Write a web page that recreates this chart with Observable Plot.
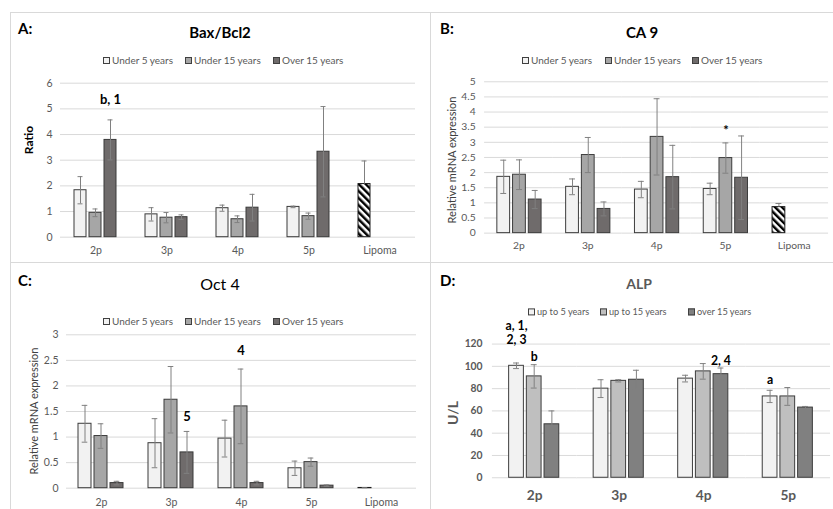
<!DOCTYPE html>
<html><head><meta charset="utf-8">
<script src="https://cdn.jsdelivr.net/npm/d3@7"></script>
<script src="https://cdn.jsdelivr.net/npm/@observablehq/plot@0.6"></script>
<style>
body{margin:0;background:#fff;overflow:hidden;}
#page{position:relative;width:833px;height:509px;overflow:hidden;font-family:Lato,"Open Sans",sans-serif;background:#fff;}
.ln{position:absolute;background:#d9d9d9;}
.txt{position:absolute;transform:translate(-50%,-50%);white-space:nowrap;line-height:1;}
.letter{position:absolute;transform:translateY(-50%);font-weight:bold;font-size:15px;color:#000;line-height:1;}
.ylab{position:absolute;transform:translate(-50%,-50%) rotate(-90deg);white-space:nowrap;line-height:1;}
.leg{position:absolute;display:flex;align-items:center;color:#595959;white-space:nowrap;transform:translateY(-50%);line-height:1;}
.sw{display:inline-block;width:5px;height:5px;border:1px solid #404040;margin-right:2px;}
.plot{position:absolute;}
.plot svg{overflow:visible;}
</style></head>
<body>
<svg width="0" height="0" style="position:absolute">
  <defs>
    <pattern id="hatch" patternUnits="userSpaceOnUse" width="5" height="5" patternTransform="rotate(-45)">
      <rect width="5" height="5" fill="#ffffff"/>
      <rect width="2.5" height="5" fill="#000000"/>
    </pattern>
  </defs>
</svg>
<div id="page"></div>
<script>
// ---------- data ----------
const categories = ["2p", "3p", "4p", "5p", "Lipoma"];
const categoriesALP = ["2p", "3p", "4p", "5p"];
const groups = ["Under 5 years", "Under 15 years", "Over 15 years"];
const groupsALP = ["up to 5 years", "up to 15 years", "over 15 years"];

// A: Bax/Bcl2 ratio
const baxU5 = [1.83, 0.89, 1.13, 1.18, 2.07];
const baxU15 = [0.95, 0.76, 0.70, 0.82, null];
const baxO15 = [3.79, 0.78, 1.15, 3.33, null];
const baxU5Err = [0.53, 0.26, 0.12, 0.03, 0.90];
const baxU15Err = [0.15, 0.20, 0.13, 0.12, null];
const baxO15Err = [0.78, 0.09, 0.52, 1.76, null];
const baxTicks = [0, 1, 2, 3, 4, 5, 6];
const baxNotes = [{cat: "2p", group: "Over 15 years", y: 5.36, text: "b, 1"}];

// B: CA 9
const caU5 = [1.86, 1.53, 1.44, 1.46, 0.86];
const caU15 = [1.93, 2.58, 3.18, 2.48, null];
const caO15 = [1.11, 0.80, 1.85, 1.83, null];
const caU5Err = [0.55, 0.26, 0.27, 0.19, 0.12];
const caU15Err = [0.49, 0.58, 1.26, 0.50, null];
const caO15Err = [0.30, 0.23, 1.05, 1.38, null];
const caTicks = [0, 0.5, 1, 1.5, 2, 2.5, 3, 3.5, 4, 4.5, 5];
const caNotes = [{cat: "5p", group: "Under 15 years", y: 3.37, text: "*"}];

// C: Oct 4
const octU5 = [1.26, 0.88, 0.97, 0.39, 0.005];
const octU15 = [1.02, 1.73, 1.60, 0.51, null];
const octO15 = [0.10, 0.70, 0.10, 0.05, null];
const octU5Err = [0.36, 0.48, 0.36, 0.14, 0.004];
const octU15Err = [0.24, 0.65, 0.73, 0.08, null];
const octO15Err = [0.035, 0.41, 0.035, 0.015, null];
const octTicks = [0, 0.5, 1, 1.5, 2, 2.5, 3];
const octNotes = [
  {cat: "3p", group: "Over 15 years", y: 1.40, text: "5"},
  {cat: "4p", group: "Under 15 years", y: 2.68, text: "4"}
];

// D: ALP (U/L)
const alpU5 = [100.5, 80, 89, 73];
const alpU15 = [91, 87, 95.5, 73];
const alpO15 = [48, 88, 93, 63];
const alpU5Err = [2.5, 8, 3, 5.5];
const alpU15Err = [10.5, 1, 7, 8];
const alpO15Err = [12, 8.5, 5.5, 1];
const alpTicks = [0, 20, 40, 60, 80, 100, 120];
const alpNotes = [
  {cat: "2p", group: "up to 5 years", y: 135.9, text: "a, 1,"},
  {cat: "2p", group: "up to 5 years", y: 123.5, text: "2, 3"},
  {cat: "2p", group: "up to 15 years", y: 108.5, text: "b"},
  {cat: "4p", group: "over 15 years", y: 105, text: "2, 4"},
  {cat: "5p", group: "up to 5 years", y: 87.4, text: "a"}
];

const fillsGray = ["#f2f2f2", "#a6a6a6", "#6f6b6b"];
const fillsALP = ["#f2f2f2", "#bfbfbf", "#808080"];
const FONT = "Lato, 'Open Sans', sans-serif";

// ---------- helpers ----------
function rowsFor(cats, groupNames, vals, errs) {
  const out = [];
  cats.forEach((c, i) => groupNames.forEach((g, j) => {
    const v = vals[j][i];
    if (v == null) return;
    const e = errs[j][i];
    const hatch = c === "Lipoma";
    out.push({cat: c, group: g, value: v, lo: hatch ? v : v - e, hi: v + e, hatch});
  }));
  return out;
}

function panel(o) {
  const normal = o.rows.filter(d => !d.hatch);
  const hatched = o.rows.filter(d => d.hatch);
  return Plot.plot({
    width: o.width, height: o.height,
    marginLeft: o.ml, marginRight: o.mr, marginTop: o.mt, marginBottom: o.mb,
    style: {fontFamily: FONT, fontSize: "10.5px", color: "#595959", background: "transparent", overflow: "visible"},
    fx: {domain: o.cats, padding: 0, label: null},
    x: {domain: o.groups, paddingInner: o.pi, paddingOuter: o.po, axis: null},
    y: {domain: o.yDomain, label: null},
    color: {domain: o.groups, range: o.fills},
    marks: [
      Plot.gridY({ticks: o.ticks, stroke: "#d9d9d9", strokeOpacity: 1}),
      Plot.axisY({ticks: o.ticks, tickFormat: d => String(d), tickSize: 0, tickPadding: o.tickPad, label: null, fontWeight: o.tickWeight || "normal", fill: "#595959"}),
      Plot.axisFx({anchor: "bottom", tickSize: 0, tickPadding: o.fxPad, label: null, fontSize: o.fxSize || 10.5, fontWeight: o.fxWeight || "normal", fill: "#595959"}),
      Plot.barY(normal, {fx: "cat", x: "group", y: "value", fill: "group", stroke: "#3a3a3a", strokeWidth: 1}),
      Plot.barY(hatched, {fx: "cat", x: "group", y: "value", fill: "url(#hatch)", stroke: "#1a1a1a", strokeWidth: 1}),
      Plot.ruleX(o.rows, {fx: "cat", x: "group", y1: "lo", y2: "hi", stroke: "#808080", strokeWidth: 1}),
      Plot.tickY(o.rows.filter(d => !d.hatch), {fx: "cat", x: "group", y: "lo", stroke: "#808080", strokeWidth: 1, insetLeft: o.cap, insetRight: o.cap}),
      Plot.tickY(o.rows, {fx: "cat", x: "group", y: "hi", stroke: "#808080", strokeWidth: 1, insetLeft: o.cap, insetRight: o.cap}),
      Plot.text(o.notes, {fx: "cat", x: "group", y: "y", text: "text", fontWeight: "bold", fontSize: o.noteSize || 13, fill: "#000"})
    ]
  });
}

const page = document.getElementById("page");
function add(html) { page.insertAdjacentHTML("beforeend", html); }

// panel borders
add(`<div class="ln" style="left:10px;top:12px;width:823px;height:1px"></div>`);
add(`<div class="ln" style="left:10px;top:262px;width:823px;height:1px"></div>`);
add(`<div class="ln" style="left:10px;top:12px;width:1px;height:497px"></div>`);
add(`<div class="ln" style="left:430px;top:12px;width:1px;height:497px"></div>`);

function place(svg, left, top) {
  const d = document.createElement("div");
  d.className = "plot";
  d.style.left = left + "px";
  d.style.top = top + "px";
  d.appendChild(svg);
  page.appendChild(d);
}

place(panel({
  rows: rowsFor(categories, groups, [baxU5, baxU15, baxO15], [baxU5Err, baxU15Err, baxO15Err]),
  cats: categories, groups, fills: fillsGray, ticks: baxTicks, yDomain: [0, 6], notes: baxNotes,
  width: 425, height: 262, ml: 58, mr: 9, mt: 82.7, mb: 25.3,
  pi: 0.19, po: 0.83, cap: 3.5, tickPad: 8, fxPad: 9
}), 0, 0);

place(panel({
  rows: rowsFor(categories, groups, [caU5, caU15, caO15], [caU5Err, caU15Err, caO15Err]),
  cats: categories, groups, fills: fillsGray, ticks: caTicks, yDomain: [0, 5], notes: caNotes,
  width: 410, height: 262, ml: 55, mr: 5, mt: 82.7, mb: 25.3,
  pi: 0.19, po: 0.78, cap: 3.5, tickPad: 9, fxPad: 9
}), 430, 0);

place(panel({
  rows: rowsFor(categories, groups, [octU5, octU15, octO15], [octU5Err, octU15Err, octO15Err]),
  cats: categories, groups, fills: fillsGray, ticks: octTicks, yDomain: [0, 3], notes: octNotes,
  width: 425, height: 247, ml: 65, mr: 8, mt: 72.3, mb: 21.3,
  pi: 0.18, po: 0.66, cap: 3.7, tickPad: 8, fxPad: 10
}), 0, 262);

place(panel({
  rows: rowsFor(categoriesALP, groupsALP, [alpU5, alpU15, alpO15], [alpU5Err, alpU15Err, alpO15Err]),
  cats: categoriesALP, groups: groupsALP, fills: fillsALP, ticks: alpTicks, yDomain: [0, 120], notes: alpNotes,
  width: 410, height: 247, ml: 61, mr: 2, mt: 83, mb: 28,
  pi: 0.16, po: 0.86, cap: 4.5, tickPad: 10, tickWeight: "bold", fxPad: 13, fxSize: 14, fxWeight: "bold", noteSize: 12.5
}), 430, 262);

// panel letters
add(`<div class="letter" style="left:18px;top:28px">A:</div>`);
add(`<div class="letter" style="left:440px;top:28px">B:</div>`);
add(`<div class="letter" style="left:18px;top:280px">C:</div>`);
add(`<div class="letter" style="left:440px;top:280px">D:</div>`);

// titles
add(`<div class="txt" style="left:220px;top:32px;font-weight:bold;font-size:15px;color:#000">Bax/Bcl2</div>`);
add(`<div class="txt" style="left:642px;top:32px;font-weight:bold;font-size:15px;color:#000">CA 9</div>`);
add(`<div class="txt" style="left:220px;top:284px;font-size:16px;color:#000">Oct 4</div>`);
add(`<div class="txt" style="left:639px;top:284px;font-weight:bold;font-size:14px;color:#595959">ALP</div>`);

// y labels
add(`<div class="ylab" style="left:29px;top:140px;font-weight:bold;font-size:12px;color:#000">Ratio</div>`);
add(`<div class="ylab" style="left:451px;top:160px;font-size:11px;color:#404040">Relative mRNA expression</div>`);
add(`<div class="ylab" style="left:33px;top:411px;font-size:11px;color:#404040">Relative mRNA expression</div>`);
add(`<div class="ylab" style="left:453px;top:413px;font-weight:bold;font-size:14px;color:#595959">U/L</div>`);

// legends
function legend(names, fills, xs, y, size) {
  names.forEach((n, i) => {
    add(`<div class="leg" style="left:${xs[i]}px;top:${y}px;font-size:${size}px"><span class="sw" style="background:${fills[i]}"></span>${n}</div>`);
  });
}
legend(groups, fillsGray, [103, 185, 273], 60, 10);
legend(groups, fillsGray, [522, 605, 692], 60, 10);
legend(groups, fillsGray, [103, 185, 273], 321, 10);
legend(groupsALP, fillsALP, [528, 600, 688], 312, 9.2);
</script>
</body></html>
